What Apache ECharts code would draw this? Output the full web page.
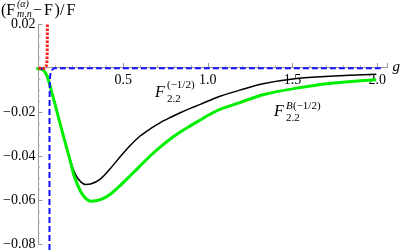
<!DOCTYPE html>
<html>
<head>
<meta charset="utf-8">
<script src="https://cdn.jsdelivr.net/npm/echarts@6/dist/echarts.min.js"></script>
<style>
html,body{margin:0;padding:0;background:#fff;}
#chart{width:403px;height:251px;}
</style>
</head>
<body>
<div id="chart"></div>
<script>
// ---- data ----
const blackG = [-0.012, 0, 0.026, 0.05, 0.073, 0.103, 0.132, 0.162, 0.191, 0.220, 0.250, 0.279, 0.308, 0.367, 0.426, 0.485, 0.543, 0.602, 0.661, 0.720, 0.778, 0.837, 0.896, 0.955, 1.013, 1.072, 1.189, 1.325, 1.524, 1.718, 1.994];
const blackV = [0, -0.0002, -0.0006, -0.0033, -0.0092, -0.0178, -0.0263, -0.0349, -0.0426, -0.0485, -0.0517, -0.0529, -0.0527, -0.0503, -0.0455, -0.0400, -0.0350, -0.0307, -0.0275, -0.0247, -0.0224, -0.0202, -0.0182, -0.0164, -0.0145, -0.0127, -0.0099, -0.0070, -0.0046, -0.0036, -0.0027];
const greenG = [-0.012, 0, 0.026, 0.05, 0.073, 0.103, 0.132, 0.162, 0.191, 0.210, 0.250, 0.279, 0.308, 0.367, 0.426, 0.485, 0.543, 0.602, 0.661, 0.720, 0.778, 0.837, 0.896, 0.955, 1.013, 1.072, 1.189, 1.325, 1.524, 1.718, 1.994];
const greenV = [0, -0.0002, -0.0006, -0.0033, -0.0092, -0.0178, -0.0263, -0.0349, -0.0430, -0.0488, -0.0562, -0.0592, -0.0605, -0.0598, -0.0572, -0.0532, -0.0488, -0.0443, -0.0398, -0.0358, -0.0322, -0.0290, -0.0262, -0.0235, -0.0209, -0.0187, -0.0156, -0.0120, -0.0090, -0.0069, -0.0052];
const blueLeftG = [-0.044, 0.0, 0.03];
const blueLeftV = [0, 0, -0.0003];
const blueRightG = [0.0646, 0.0655, 0.067, 0.069, 0.075, 0.082, 0.09, 2.02];
const blueRightV = [-0.3, -0.02, -0.008, -0.0036, -0.0012, -0.0003, 0, 0];
const redG = [0.0, 0.034, 0.042, 0.047, 0.050, 0.052, 0.053, 0.0535];
const redV = [0, 0, 0.0003, 0.0012, 0.0024, 0.007, 0.02, 0.05];
const xTickLabels = [0.5, 1.0, 1.5, 2.0];
const yTickLabels = [0.02, -0.02, -0.04, -0.06, -0.08];

const pairs = (g, v) => g.map((x, i) => [x, v[i]]);
const SERIF = "'Liberation Serif','Times New Roman',serif";
const AX = '#9a9a9a';
const near = (v, list) => list.some(t => Math.abs(t - v) < 1e-9);

const GRID_TOP = 24.45, GRID_BOTTOM = 5.3, H = 251;
const Y_MIN = -0.08, Y_MAX = 0.02;
// distance from grid bottom edge up to the y=0 line (x axis sits at y = 0)
const zeroOffset = (0 - Y_MIN) / (Y_MAX - Y_MIN) * (H - GRID_TOP - GRID_BOTTOM);

const chart = echarts.init(document.getElementById('chart'), null, {renderer: 'canvas'});
chart.setOption({
  animation: false,
  backgroundColor: '#fff',
  grid: {left: 37.5, right: 14.4, top: GRID_TOP, bottom: GRID_BOTTOM, containLabel: false},
  xAxis: {
    type: 'value', min: 0, max: 2.06, interval: 0.5,
    position: 'bottom', offset: -zeroOffset,
    name: 'g', nameLocation: 'end', nameGap: 5,
    nameTextStyle: {fontFamily: SERIF, fontStyle: 'italic', fontSize: 15, color: '#000', verticalAlign: 'middle'},
    axisLine: {show: true, onZero: false, lineStyle: {color: AX, width: 1}},
    axisTick: {show: true, inside: true, length: 4, lineStyle: {color: AX}},
    minorTick: {show: true, splitNumber: 5, length: 2, lineStyle: {color: '#bbb'}},
    axisLabel: {show: true, showMaxLabel: false, margin: 6,
      formatter: v => (near(v, xTickLabels) ? v.toFixed(1) : ''),
      fontFamily: SERIF, fontSize: 14, color: '#000'},
    splitLine: {show: false},
    minorSplitLine: {show: false}
  },
  yAxis: {
    type: 'value', min: Y_MIN, max: Y_MAX, interval: 0.02,
    axisLine: {show: true, onZero: false, lineStyle: {color: AX, width: 1}},
    axisTick: {show: true, inside: true, length: 4, lineStyle: {color: AX}},
    minorTick: {show: true, splitNumber: 4, length: 2, lineStyle: {color: '#bbb'}},
    axisLabel: {show: true, margin: 3, fontFamily: SERIF, fontSize: 14, color: '#000',
      formatter: v => (near(v, yTickLabels) ? (v < 0 ? '\u2212' + Math.abs(v).toFixed(2) : v.toFixed(2)) : '')},
    splitLine: {show: false},
    minorSplitLine: {show: false}
  },
  series: [
    {type: 'line', data: pairs(blackG, blackV), showSymbol: false, smooth: 0.3, z: 2, clip: false,
      lineStyle: {color: '#000', width: 1.5}},
    {type: 'line', data: pairs(greenG, greenV), showSymbol: false, smooth: 0.3, z: 3, clip: false,
      lineStyle: {color: '#00ee00', width: 3}},
    {type: 'line', data: pairs(blueLeftG, blueLeftV), showSymbol: false, z: 4, clip: false,
      lineStyle: {color: '#1010ff', width: 2, type: [6, 3]}},
    {type: 'line', data: pairs(blueRightG, blueRightV), showSymbol: false, z: 4, clip: false,
      lineStyle: {color: '#1010ff', width: 2, type: [6, 3]}},
    {type: 'line', data: pairs(redG, redV), showSymbol: false, z: 5,
      lineStyle: {color: '#ff1a1a', width: 3, type: [2.5, 1.5]}}
  ],
  graphic: [
    {type: 'text', left: 1, top: 3, style: {text: '(F', font: '16px ' + SERIF, fill: '#000'}},
    {type: 'text', left: 17, top: -1, style: {text: '(\u03b1)', font: 'italic 10px ' + SERIF, fill: '#000'}},
    {type: 'text', left: 17, top: 9, style: {text: 'm,n', font: 'italic 10px ' + SERIF, fill: '#000'}},
    {type: 'text', left: 33, top: 3, style: {text: '\u2212', font: '16px ' + SERIF, fill: '#000'}},
    {type: 'text', left: 44, top: 3, style: {text: 'F', font: '16px ' + SERIF, fill: '#000'}},
    {type: 'text', left: 54.5, top: 3, style: {text: ')', font: '16px ' + SERIF, fill: '#000'}},
    {type: 'text', left: 60, top: 3, style: {text: '/', font: '16px ' + SERIF, fill: '#000'}},
    {type: 'text', left: 66.5, top: 3, style: {text: 'F', font: '16px ' + SERIF, fill: '#000'}},

    {type: 'text', left: 155, top: 85, style: {text: 'F', font: 'italic 16px ' + SERIF, fill: '#000'}},
    {type: 'text', left: 167, top: 80, style: {text: '(\u22121/2)', font: '11px ' + SERIF, fill: '#000'}},
    {type: 'text', left: 167, top: 94, style: {text: '2.2', font: '11px ' + SERIF, fill: '#000'}},

    {type: 'text', left: 274, top: 104, style: {text: 'F', font: 'italic 16px ' + SERIF, fill: '#000'}},
    {type: 'text', left: 286, top: 101, style: {text: 'B', font: 'italic 11px ' + SERIF, fill: '#000'}},
    {type: 'text', left: 293, top: 101, style: {text: '(\u22121/2)', font: '11px ' + SERIF, fill: '#000'}},
    {type: 'text', left: 286, top: 113, style: {text: '2.2', font: '11px ' + SERIF, fill: '#000'}}
  ]
});
</script>
</body>
</html>
